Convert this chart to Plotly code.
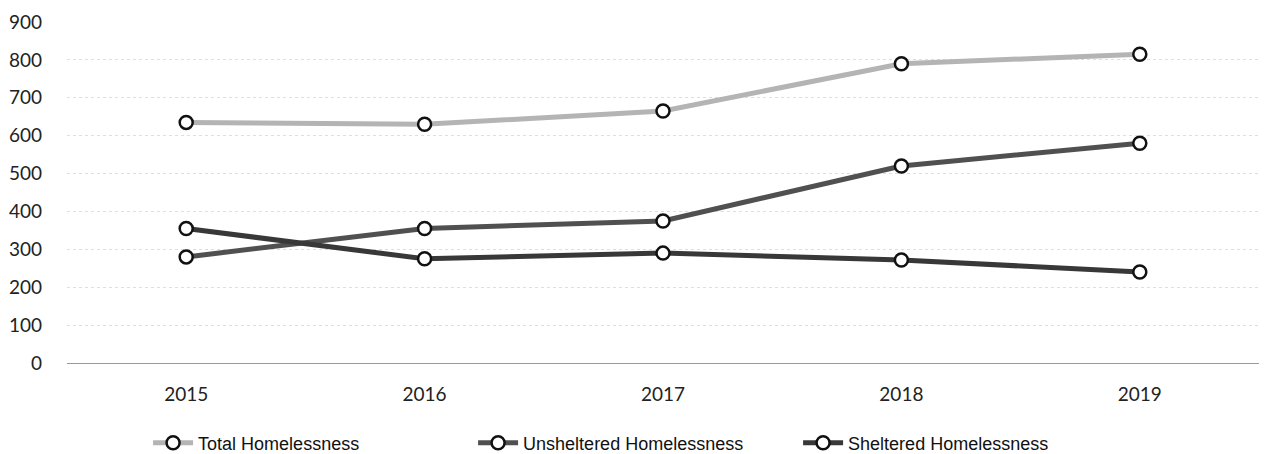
import plotly.graph_objects as go

years = ["2015", "2016", "2017", "2018", "2019"]
total = [635, 630, 665, 790, 815]
unsheltered = [280, 355, 375, 520, 580]
sheltered = [355, 275, 290, 272, 240]
y_ticks = [0, 100, 200, 300, 400, 500, 600, 700, 800, 900]

series = [
    ("Total Homelessness", total, "#b4b4b4"),
    ("Unsheltered Homelessness", unsheltered, "#505050"),
    ("Sheltered Homelessness", sheltered, "#383838"),
]

fig = go.Figure()
for name, vals, col in series:
    fig.add_trace(go.Scatter(
        x=years, y=vals, name=name, mode="lines+markers",
        line=dict(color=col, width=5),
        marker=dict(symbol="circle", size=13, color="white",
                    line=dict(color="#111111", width=2.5)),
    ))

fig.update_layout(
    width=1268, height=446,
    margin=dict(l=59, r=17, t=14, b=91, autoexpand=False),
    paper_bgcolor="white", plot_bgcolor="white",
    font=dict(family="Lato", color="#222222", size=19),
    showlegend=True,
    legend=dict(orientation="h", x=0.477, xanchor="center", y=-0.235, yanchor="middle",
                font=dict(family="Liberation Sans", size=18, color="#111111"),
                itemwidth=40, entrywidth=270),
    xaxis=dict(type="category", range=[-0.5, 4.5], showgrid=False, zeroline=False,
               showline=False, ticks="", tickfont=dict(size=19), ticklabelstandoff=18),
    yaxis=dict(range=[0, 900], tickvals=y_ticks, showgrid=True,
               gridcolor="#dedede", griddash="dot", gridwidth=1,
               zeroline=True, zerolinecolor="#9a9a9a", zerolinewidth=1,
               showline=False, ticks="", tickfont=dict(size=19),
               ticklabelstandoff=24),
)

fig.write_html("out.html")
